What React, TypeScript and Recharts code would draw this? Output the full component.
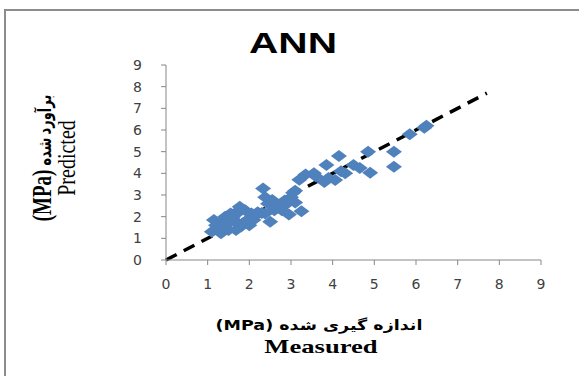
import { ScatterChart, Scatter, XAxis, YAxis, ReferenceLine } from "recharts";

const measured = [
  1.15, 1.1, 1.25, 1.32, 1.2, 1.42, 1.5, 1.5, 1.55, 1.65, 1.68, 1.7, 1.75, 1.77, 1.8, 1.85,
  1.9, 1.95, 2.0, 2.05, 2.1, 2.15, 2.2, 2.3, 2.33, 2.38, 2.38, 2.45, 2.5, 2.55, 2.6, 2.65,
  2.72, 2.78, 2.85, 2.9, 2.95, 3.0, 3.05, 3.1, 3.1, 3.25, 3.35, 3.2, 3.55, 3.6, 3.8, 3.9,
  3.85, 4.06, 4.15, 4.2, 4.3, 4.5, 4.65, 4.9, 4.85, 5.47, 5.47, 5.85, 6.25, 6.2,
  1.3, 1.4, 1.6,
];
const predicted = [
  1.85, 1.3, 1.45, 1.23, 1.6, 2.0, 1.38, 1.7, 2.15, 1.8, 1.38, 2.15, 2.3, 2.46, 1.55, 1.7,
  2.3, 1.85, 1.6, 2.15, 1.85, 2.05, 2.2, 2.17, 3.3, 2.9, 2.15, 2.6, 1.77, 2.77, 2.3, 2.6,
  2.45, 2.3, 2.75, 2.6, 2.1, 2.9, 3.1, 2.65, 3.2, 2.25, 3.95, 3.7, 4.0, 3.85, 3.6, 3.78,
  4.38, 3.69, 4.8, 4.1, 4.0, 4.38, 4.25, 4.03, 5.0, 5.0, 4.3, 5.8, 6.2, 6.1,
  1.7, 1.6, 1.95,
];
const ticks = [0, 1, 2, 3, 4, 5, 6, 7, 8, 9];
const fitLine = [0, 7.7];

const points = measured.map((m, i) => ({ x: m, y: predicted[i] }));

const axisColor = "#878787";
const tickStyle = { fill: "#404040", fontSize: 14, fontFamily: "DejaVu Sans" };

// excel style diamond, a bit wider than tall (the source image is stretched)
function Diamond(props: any) {
  const { cx, cy } = props;
  const rx = 8;
  const ry = 6;
  return (
    <path
      d={`M${cx},${cy - ry}L${cx + rx},${cy}L${cx},${cy + ry}L${cx - rx},${cy}Z`}
      fill="#4f81bd"
    />
  );
}

function Label({ x, y, children, style }: { x: number; y: number; children: any; style: any }) {
  return (
    <div
      style={{
        position: "absolute",
        left: x,
        top: y,
        whiteSpace: "nowrap",
        lineHeight: 1,
        ...style,
        transform: `translate(-50%, -50%) ${style.transform || ""}`,
      }}
    >
      {children}
    </div>
  );
}

export default function App() {
  return (
    <div style={{ position: "fixed", left: 0, top: 0, width: 579, height: 376, background: "#fff" }}>
      <ScatterChart width={579} height={376} margin={{ top: 65, right: 38, left: 126, bottom: 86 }}>
        <XAxis
          type="number"
          dataKey="x"
          domain={[0, 9]}
          ticks={ticks}
          height={30}
          stroke={axisColor}
          tickSize={5}
          tickMargin={14}
          tick={tickStyle}
        />
        <YAxis
          type="number"
          dataKey="y"
          domain={[0, 9]}
          ticks={ticks}
          width={40}
          stroke={axisColor}
          tickSize={5}
          tickMargin={19}
          tick={tickStyle}
        />
        <Scatter data={points} shape={<Diamond />} isAnimationActive={false} />
        <ReferenceLine
          segment={[
            { x: fitLine[0], y: fitLine[0] },
            { x: fitLine[1], y: fitLine[1] },
          ]}
          stroke="#000"
          strokeWidth={3.5}
          strokeDasharray="12 8"
        />
      </ScatterChart>
      {/* figure frame (left and top edges) */}
      <div style={{ position: "absolute", left: 4, top: 9, width: 575, height: 0, borderTop: "2px solid #8c8c8c" }} />
      <div style={{ position: "absolute", left: 4, top: 9, width: 0, height: 367, borderLeft: "2px solid #8c8c8c" }} />
      <Label x={293} y={43} style={{ fontFamily: "Liberation Sans", fontWeight: 700, fontSize: 29, transform: "scaleX(1.4)" }}>
        ANN
      </Label>
      <Label x={319} y={325} style={{ fontFamily: "DejaVu Sans", fontWeight: 700, fontSize: 14, direction: "rtl", transform: "scaleX(1.25)" }}>
        اندازه گیری شده (MPa)
      </Label>
      <Label x={321} y={346} style={{ fontFamily: "Liberation Serif", fontWeight: 700, fontSize: 19, transform: "scaleX(1.4)" }}>
        Measured
      </Label>
      <Label x={42} y={158} style={{ fontFamily: "Liberation Serif, DejaVu Sans", fontWeight: 700, direction: "rtl", transform: "scaleX(1.4) rotate(-90deg)" }}>
        <span style={{ fontSize: 13 }}>برآورد شده</span> <span style={{ fontSize: 19 }}>(MPa)</span>
      </Label>
      <Label x={66} y={158} style={{ fontFamily: "Liberation Serif", fontSize: 20, transform: "scaleX(1.3) rotate(-90deg)" }}>
        Predicted
      </Label>
    </div>
  );
}
